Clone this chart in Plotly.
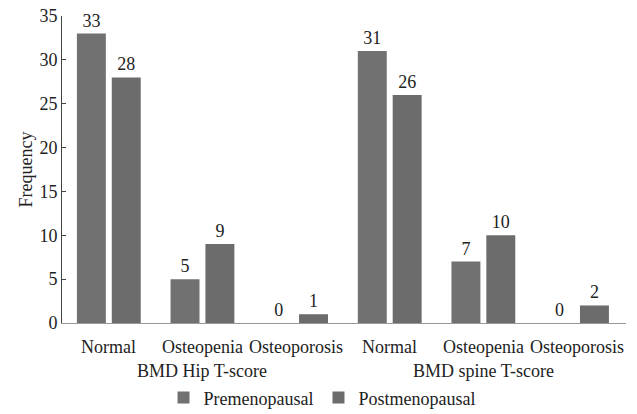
import plotly.graph_objects as go

groups = ["BMD Hip T-score"] * 3 + ["BMD spine T-score"] * 3
categories = ["Normal", "Osteopenia", "Osteoporosis", "Normal", "Osteopenia", "Osteoporosis"]
premenopausal = [33, 5, 0, 31, 7, 0]
postmenopausal = [28, 9, 1, 26, 10, 2]
yticks = [0, 5, 10, 15, 20, 25, 30, 35]

FONT = "Liberation Serif, Times New Roman, serif"
FS = 18

fig = go.Figure()
fig.add_trace(go.Bar(x=[groups, categories], y=premenopausal, name="Premenopausal",
                     marker=dict(color="#717171", line=dict(width=0)),
                     text=premenopausal, textposition="outside", cliponaxis=False,
                     textfont=dict(family=FONT, size=FS, color="#222")))
fig.add_trace(go.Bar(x=[groups, categories], y=postmenopausal, name="Postmenopausal",
                     marker=dict(color="#6c6c6c", line=dict(width=0)),
                     text=postmenopausal, textposition="outside", cliponaxis=False,
                     textfont=dict(family=FONT, size=FS, color="#222")))

# category labels under each pair of bars
for i, cat in enumerate(categories):
    fig.add_annotation(x=i, y=0, xref="x", yref="paper", text=cat, showarrow=False,
                       xanchor="center", yanchor="middle", yshift=-24,
                       font=dict(family=FONT, size=FS, color="#222"))
# group labels centred under each group of categories
for g in dict.fromkeys(groups):
    idx = [i for i, gg in enumerate(groups) if gg == g]
    fig.add_annotation(x=sum(idx) / len(idx), y=0, xref="x", yref="paper", text=g,
                       showarrow=False, xanchor="center", yanchor="middle", yshift=-48,
                       font=dict(family=FONT, size=FS, color="#222"))

fig.update_layout(
    width=637, height=414,
    margin=dict(l=62, r=11, t=16, b=91, autoexpand=False),
    paper_bgcolor="white", plot_bgcolor="white",
    font=dict(family=FONT, size=FS, color="#222"),
    barmode="group", bargap=0.255, bargroupgap=0.17,
    showlegend=True,
    legend=dict(orientation="h", x=0.18, xanchor="left", y=-0.244, yanchor="middle",
                font=dict(family=FONT, size=FS), itemwidth=30, tracegroupgap=0),
    yaxis=dict(range=[0, 35], tickvals=yticks, showgrid=False, zeroline=False, automargin=False,
               showline=True, linecolor="#444", linewidth=1, ticks="inside", ticklen=4,
               tickcolor="#444", tickfont=dict(family=FONT, size=FS),
               title=dict(text="Frequency", font=dict(family=FONT, size=FS), standoff=2)),
    xaxis=dict(type="multicategory", showdividers=False, showline=True, linecolor="#999",
               ticks="", showgrid=False, automargin=False, showticklabels=False),
)

fig.write_html("out.html", config={"displayModeBar": False})
with open("out.html", "r", encoding="utf-8") as f:
    html = f.read()
html = html.replace("<body>", '<body style="margin:0;overflow:hidden">', 1)
with open("out.html", "w", encoding="utf-8") as f:
    f.write(html)
